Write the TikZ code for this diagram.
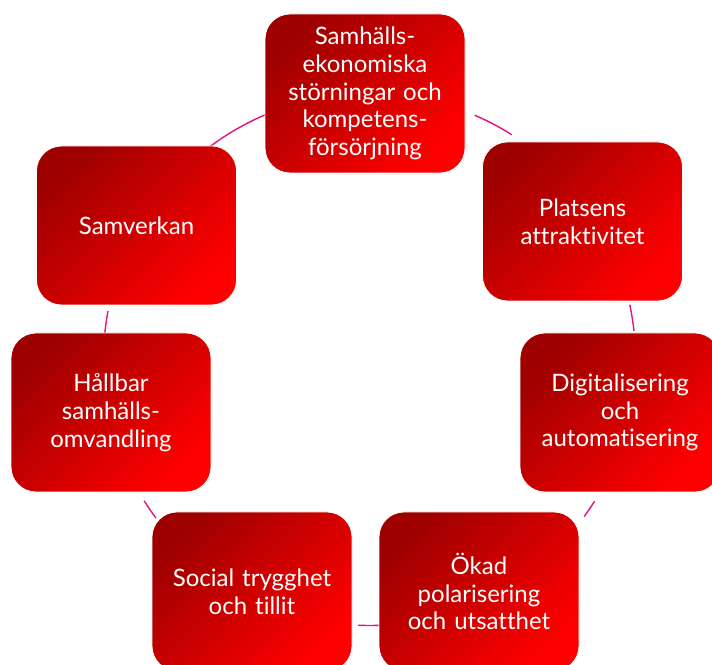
\documentclass[tikz,border=0pt]{standalone}
\usepackage{fontspec}
\setmainfont{Lato}[Ligatures={NoCommon}]
\definecolor{boxdark}{RGB}{158,0,0}
\definecolor{boxlight}{RGB}{255,0,0}
\definecolor{connmag}{RGB}{228,20,128}
\tikzset{
  cyclebox/.style={rounded corners=25pt, minimum width=200pt, minimum height=159pt,
    text width=190pt, align=center, text=white, inner sep=0pt,
    top color=boxdark, bottom color=boxlight, shading angle=45,
    draw=white, line width=0.8pt,
    font=\fontsize{24}{27.7}\selectfont},
  conn/.style={draw=connmag, line width=1.4pt}
}
\begin{document}
\begin{tikzpicture}[x=1pt,y=1pt]
\clip (0,0) rectangle (712,664);
\fill[white] (0,0) rectangle (712,664);
\coordinate (c) at (369.5,304.5);
\def\R{266}
% connectors (arcs of the cycle)
\draw[conn] ([shift={(113:\R)}]c) arc[start angle=113, end angle=127, radius=\R];
\draw[conn] ([shift={(66.7:\R)}]c) arc[start angle=66.7, end angle=57.7, radius=\R];
\draw[conn] ([shift={(11.9:\R)}]c) arc[start angle=11.9, end angle=6.2, radius=\R];
\draw[conn] ([shift={(-32.2:\R)}]c) arc[start angle=-32.2, end angle=-36.2, radius=\R];
\draw[conn] ([shift={(-88:\R)}]c) arc[start angle=-88, end angle=-92.5, radius=\R];
\draw[conn] ([shift={(-143.4:\R)}]c) arc[start angle=-143.4, end angle=-147.9, radius=\R];
\draw[conn] ([shift={(174.7:\R)}]c) arc[start angle=174.7, end angle=169.5, radius=\R];
% boxes
\node[cyclebox] (b1) at (365,570.5) {Samhälls-\\ekonomiska\\störningar och\\kompetens-\\försörjning};
\node[cyclebox] (b2) at (582.5,442.5) {Platsens\\attraktivitet};
\node[cyclebox] (b3) at (620,251.5) {Digitalisering\\och\\automatisering};
\node[cyclebox] (b4) at (479,72.5) {Ökad\\polarisering\\och utsatthet};
\node[cyclebox] (b5) at (252,72.5) {Social trygghet\\och tillit};
\node[cyclebox] (b6) at (111,251.5) {Hållbar\\samhälls-\\omvandling};
\node[cyclebox] (b7) at (136.5,438.5) {Samverkan};
\end{tikzpicture}
\end{document}
